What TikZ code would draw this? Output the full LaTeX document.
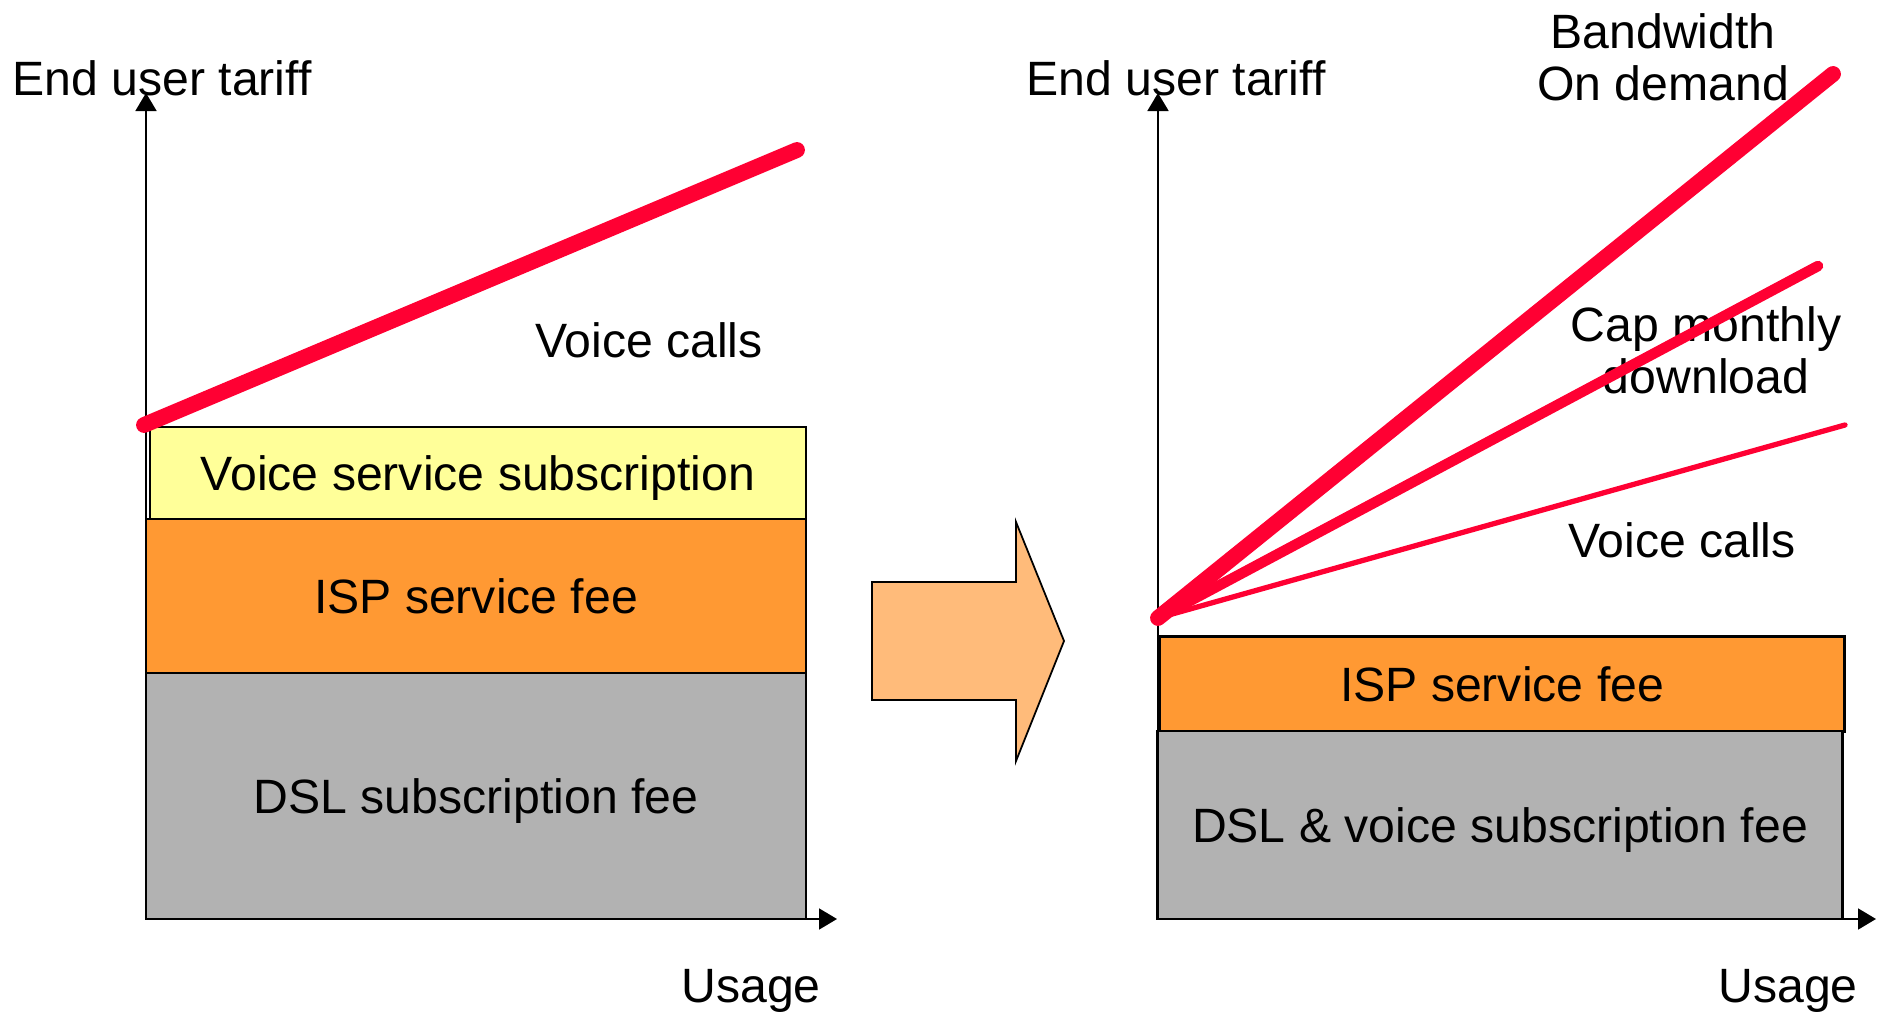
\documentclass[tikz,border=0pt]{standalone}
\usepackage{fontspec}
\setmainfont{Liberation Sans}
\usetikzlibrary{arrows.meta}

\definecolor{tariffred}{HTML}{FF0033}
\definecolor{voiceyellow}{HTML}{FFFF99}
\definecolor{ispor}{HTML}{FF9933}
\definecolor{dslgray}{HTML}{B2B2B2}
\definecolor{arrowor}{HTML}{FFBB7A}

\begin{document}
\begin{tikzpicture}[x=0.01cm, y=-0.01cm, >={Triangle[length=0.18cm,width=0.21cm]},
                    font=\fontsize{13.7}{14.7}\selectfont]
\def \sp {0.7pt}
  \tikzstyle{block} = [draw, color=black, rectangle, line width=\sp, text=black,
                       inner sep=0, align=center, text depth=0pt]
  \tikzstyle{axis} = [black, line width=0.5pt, ->]
  \tikzstyle{label} = [inner sep=0, align=center, text=black]
  \tikzstyle{thick tariff} = [tariffred, line width=4.5pt, line cap=round]
  \tikzstyle{mid tariff} = [tariffred, line width=3pt, line cap=round]
  \tikzstyle{thin tariff} = [tariffred, line width=1.5pt, line cap=round]
  \tikzstyle{bigarrow} = [draw=black, fill=arrowor, line width=0.5pt]

\useasboundingbox (0,0) rectangle (1879,1013);

%%%%%%%%%%%%%%%%%%%%%%%%%%%%%%%%%%%%%%%%%%%%%%%%%%%%%%%%%%%%%%%%%%%%%%%%%%%%%%%

\coordinate (origin_l) at (146, 919);
\coordinate (yend_l) at (146, 93);
\coordinate (xend_l) at (837, 919);
\coordinate (origin_r) at (1158, 919);
\coordinate (yend_r) at (1158, 93);
\coordinate (xend_r) at (1876, 919);

\coordinate (calls_start_l) at (144, 425);
\coordinate (calls_end_l) at (797, 150);
\coordinate (tariff_start_r) at (1158, 618);
\coordinate (bod_end) at (1833, 74);
\coordinate (cap_end) at (1818, 266);
\coordinate (calls_end_r) at (1845, 425);

%%%%%%%%%%%%%%%%%%%%%%%%%%%%%%%%%%%%%%%%%%%%%%%%%%%%%%%%%%%%%%%%%%%%%%%%%%%%%%%

\node[block, fill=voiceyellow, minimum width=6.56cm, minimum height=0.92cm] (voice_sub) at (478, 473) {Voice service subscription};
\node[block, fill=ispor, minimum width=6.6cm, minimum height=1.54cm] (isp_l) at (476, 596) {ISP service fee};
\node[block, fill=dslgray, minimum width=6.6cm, minimum height=2.46cm] (dsl_l) at (476, 796) {DSL subscription fee};

\node[block, fill=ispor, minimum width=6.85cm, minimum height=0.95cm] (isp_r) at (1502, 684) {ISP service fee};
\node[block, fill=dslgray, minimum width=6.85cm, minimum height=1.88cm] (dsl_r) at (1500, 825) {DSL \& voice subscription fee};

\node[label] (tariff_l) at (162, 78) {End user tariff};
\node[label, text depth=0pt] (usage_l) at (751, 986) {Usage};
\node[label] (calls_l) at (649, 340) {Voice calls};

\node[label] (tariff_r) at (1176, 78) {End user tariff};
\node[label, text depth=0pt] (usage_r) at (1788, 986) {Usage};
\node[label] (bod) at (1663, 57) {Bandwidth\\On demand};
\node[label] (cap) at (1706, 350) {Cap monthly\\download};
\node[label] (calls_r) at (1682, 540) {Voice calls};

%%%%%%%%%%%%%%%%%%%%%%%%%%%%%%%%%%%%%%%%%%%%%%%%%%%%%%%%%%%%%%%%%%%%%%%%%%%%%%%

\draw[axis] (origin_l) -- (yend_l);
\draw[axis] (origin_l) -- (xend_l);
\draw[axis] (origin_r) -- (yend_r);
\draw[axis] (origin_r) -- (xend_r);

\draw[thick tariff] (calls_start_l) -- (calls_end_l);
\draw[thin tariff] (tariff_start_r) -- (calls_end_r);
\draw[mid tariff] (tariff_start_r) -- (cap_end);
\draw[thick tariff] (tariff_start_r) -- (bod_end);

\draw[bigarrow] (872,582) -- (1016,582) -- (1016,522) -- (1064,641) -- (1016,761) -- (1016,700) -- (872,700) -- cycle;

\end{tikzpicture}
\end{document}
